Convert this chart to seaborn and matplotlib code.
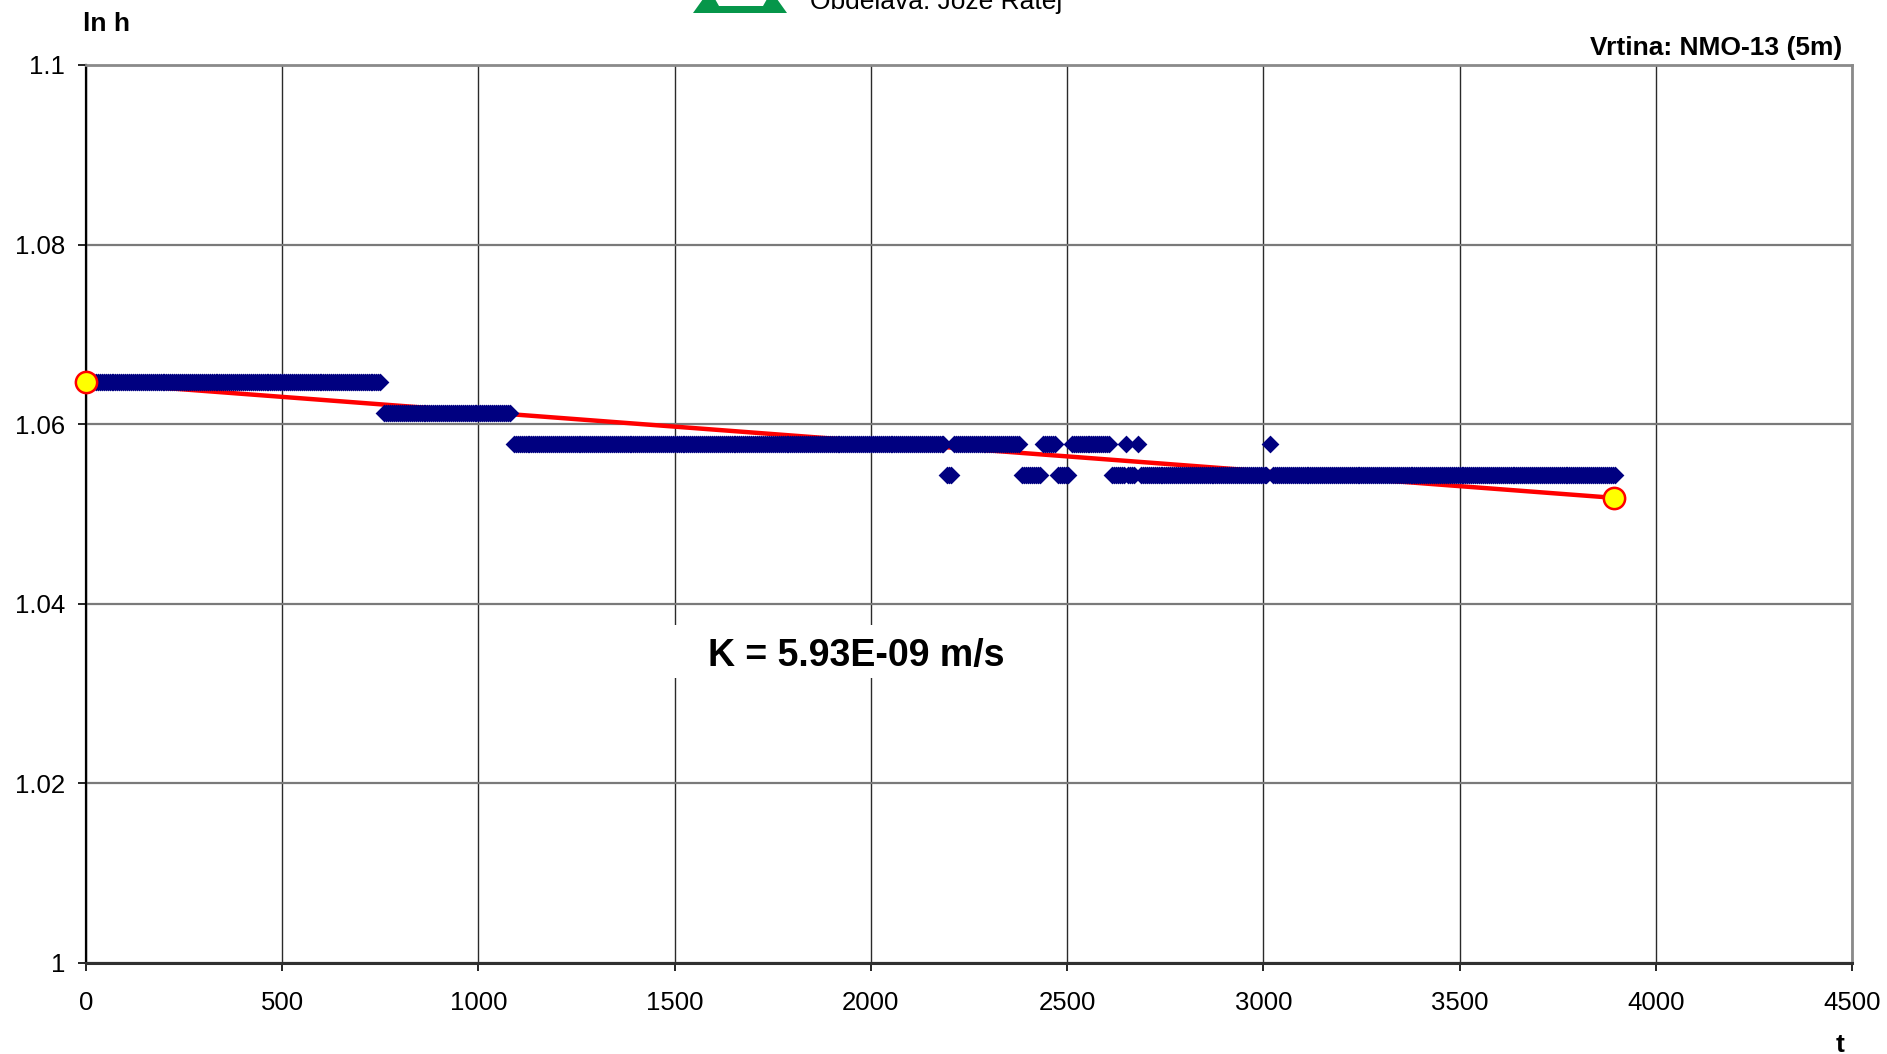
import numpy as np
import pandas as pd
import matplotlib
matplotlib.use("Agg")
import matplotlib.pyplot as plt
from matplotlib.patches import Polygon, Rectangle
import seaborn as sns

# Logged head readings, grouped into runs of equal value: start [s], end [s], h [m]
run_start = [0, 760, 1090, 2193, 2212, 2385, 2438, 2478, 2512, 2615, 2650, 2656, 2680, 2688, 3017, 3025]
run_end = [750, 1082, 2188, 2207, 2380, 2432, 2468, 2505, 2608, 2645, 2650, 2672, 2680, 3010, 3017, 3895]
run_head = [2.90, 2.89, 2.88, 2.87, 2.88, 2.87, 2.88, 2.87, 2.88, 2.87, 2.88, 2.87, 2.88, 2.87, 2.88, 2.87]
sample_step = 5  # logger interval [s]

# Fitted straight line through ln h (end points)
fit_t = [0, 3893]
fit_lnh = [1.0647, 1.0518]

x_ticks = [0, 500, 1000, 1500, 2000, 2500, 3000, 3500, 4000, 4500]
y_ticks = [1.00, 1.02, 1.04, 1.06, 1.08, 1.10]

k_label = "K = 5.93E-09 m/s"
well_label = "Vrtina: NMO-13 (5m)"
author_label = "Obdelava: Jože Ratej"

# Expand the runs into individual readings
t_vals, h_vals = [], []
for a, b, h in zip(run_start, run_end, run_head):
    tt = np.arange(a, b + 1, sample_step)
    t_vals.extend(tt)
    h_vals.extend([h] * len(tt))
df = pd.DataFrame({"t": t_vals, "lnh": np.log(h_vals)})
fit_df = pd.DataFrame({"t": fit_t, "lnh": fit_lnh})

sns.set_style("white")
plt.rcParams["font.family"] = ["Liberation Sans", "DejaVu Sans"]
plt.rcParams["text.color"] = "black"
plt.rcParams["axes.labelcolor"] = "black"
plt.rcParams["xtick.color"] = "black"
plt.rcParams["ytick.color"] = "black"

W, H = 1887, 1054
fig = plt.figure(figsize=(W / 100, H / 100), dpi=100)
ax = fig.add_axes([86 / W, 1 - 963 / H, (1852 - 86) / W, (963 - 65) / H])

# Fitted line under the readings
sns.lineplot(data=fit_df, x="t", y="lnh", ax=ax, color="#ff0000", lw=3.2, zorder=2)
# Readings
sns.scatterplot(data=df, x="t", y="lnh", ax=ax, marker="D", s=82, color="#000080",
                linewidth=0, zorder=3)
# Fit end points
sns.scatterplot(data=fit_df, x="t", y="lnh", ax=ax, marker="o", s=235, color="#ffff00",
                edgecolor="#ff0000", linewidth=1.8, zorder=5, clip_on=False)

ax.set_xlim(0, 4500)
ax.set_ylim(1.0, 1.1)
ax.set_xticks(x_ticks)
ax.set_xticklabels([f"{v:g}" for v in x_ticks])
ax.set_yticks(y_ticks)
ax.set_yticklabels([f"{round(v, 2):g}" for v in y_ticks])
ax.set_xlabel("")
ax.set_ylabel("")
ax.tick_params(axis="both", direction="out", length=6, width=1.2, color="#000000",
               labelsize=18.5, labelcolor="black", left=True, bottom=True)
ax.tick_params(axis="x", pad=14)
ax.tick_params(axis="y", pad=9)

ax.set_axisbelow(True)
ax.xaxis.grid(True, color="#2a2a2a", lw=1.0)
ax.yaxis.grid(True, color="#7a7a7a", lw=1.6)

for side in ("top", "right"):
    ax.spines[side].set_color("#8a8a8a")
    ax.spines[side].set_linewidth(2.0)
ax.spines["left"].set_color("#000000")
ax.spines["left"].set_linewidth(1.6)
ax.spines["bottom"].set_color("#303030")
ax.spines["bottom"].set_linewidth(2.2)

# Result label on a white patch
ax.add_patch(Rectangle((1480, 1.0317), 965, 0.0059, facecolor="white", edgecolor="none",
                       zorder=1.5))
ax.text(1962, 1.0331, k_label, ha="center", va="baseline", fontsize=27,
        fontweight="bold", zorder=6)

# Axis titles and header texts
fig.text(83 / W, 1 - 31 / H, "ln h", ha="left", va="baseline", fontsize=19, fontweight="bold")
fig.text(1845 / W, 1 - 1052 / H, "t", ha="right", va="baseline", fontsize=19, fontweight="bold")
fig.text(1842 / W, 1 - 55 / H, well_label, ha="right", va="baseline", fontsize=19,
         fontweight="bold")
fig.text(810 / W, 1 - 8.5 / H, author_label, ha="left", va="baseline", fontsize=19)


def px(x, y):
    return (x / W, 1 - y / H)


# Company mark (green trapezoid)
outer = Polygon([px(693, 13), px(787, 13), px(777, -1), px(703, -1)], closed=True,
                facecolor="#06964a", edgecolor="none", transform=fig.transFigure)
inner = Polygon([px(715, -1), px(767, -1), px(763, 6), px(719, 6)], closed=True,
                facecolor="white", edgecolor="none", transform=fig.transFigure)
fig.add_artist(outer)
fig.add_artist(inner)

fig.savefig("out.png", dpi=100)
